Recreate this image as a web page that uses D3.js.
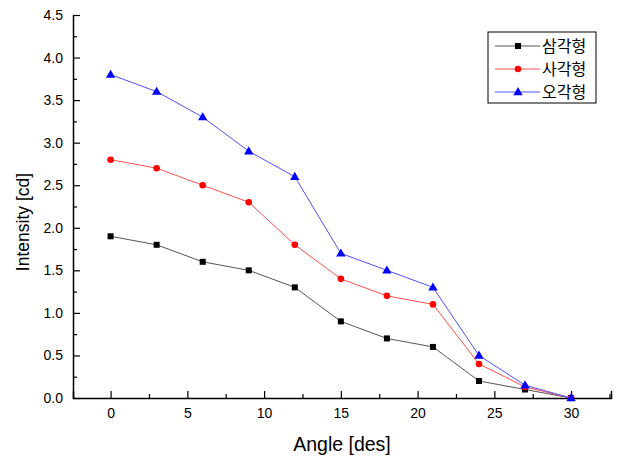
<!DOCTYPE html>
<html>
<head>
<meta charset="utf-8">
<script src="https://cdn.jsdelivr.net/npm/d3@7"></script>
<style>
  body { margin: 0; background: #fff; }
  svg { font-family: "Liberation Sans", Arial, sans-serif; }
</style>
</head>
<body>
<div id="chart"></div>
<script>
// chart data
const angles = [0, 3, 6, 9, 12, 15, 18, 21, 24, 27, 30];
const triangle = [1.9, 1.8, 1.6, 1.5, 1.3, 0.9, 0.7, 0.6, 0.2, 0.1, 0.0];
const square = [2.8, 2.7, 2.5, 2.3, 1.8, 1.4, 1.2, 1.1, 0.4, 0.13, 0.0];
const pentagon = [3.8, 3.6, 3.3, 2.9, 2.6, 1.7, 1.5, 1.3, 0.5, 0.15, 0.0];
const seriesNames = ["삼각형", "사각형", "오각형"];
const xTicks = [0, 5, 10, 15, 20, 25, 30];
const yTicks = [0, 0.5, 1.0, 1.5, 2.0, 2.5, 3.0, 3.5, 4.0, 4.5];

const WIDTH = 617, HEIGHT = 456;
const MARGINS = {left: 73, right: 6, top: 15, bottom: 58};

const svg = d3.select("#chart").append("svg")
  .attr("width", WIDTH).attr("height", HEIGHT);

const x = d3.scaleLinear().domain([-2.45, 32.6])
  .range([MARGINS.left, WIDTH - MARGINS.right]);
const y = d3.scaleLinear().domain([0, 4.5])
  .range([HEIGHT - MARGINS.bottom, MARGINS.top]);

// axes (ticks point inward)
const xMinor = d3.range(-2.5, 33, 2.5).filter(v => v % 5 !== 0 && v > -2.4);
svg.append("g")
  .attr("transform", "translate(0," + y(0) + ")")
  .call(d3.axisBottom(x).tickValues(xMinor).tickSize(-4).tickFormat(""))
  .call(g => g.select(".domain").remove());
svg.append("g")
  .attr("transform", "translate(0," + y(0) + ")")
  .call(d3.axisBottom(x).tickValues(xTicks).tickSize(-7).tickSizeOuter(-7).tickPadding(10))
  .attr("font-size", "14px")
  .attr("font-family", null);

const yMinor = d3.range(0.25, 4.5, 0.5);
svg.append("g")
  .attr("transform", "translate(" + x.range()[0] + ",0)")
  .call(d3.axisLeft(y).tickValues(yMinor).tickSize(-4).tickFormat(""))
  .call(g => g.select(".domain").remove());
svg.append("g")
  .attr("transform", "translate(" + x.range()[0] + ",0)")
  .call(d3.axisLeft(y).tickValues(yTicks).tickSize(-7).tickSizeOuter(0).tickPadding(10).tickFormat(d3.format(".1f")))
  .attr("font-size", "14px")
  .attr("font-family", null);

svg.selectAll(".domain").attr("stroke-width", 1.5);
svg.selectAll(".tick line").attr("stroke-width", 1.2);
svg.selectAll(".tick text").attr("fill", "#000");

// axis titles
svg.append("text")
  .attr("x", 342).attr("y", 451)
  .attr("text-anchor", "middle")
  .attr("font-size", "19.5px")
  .text("Angle [des]");
svg.append("text")
  .attr("transform", "translate(29,222) rotate(-90)")
  .attr("text-anchor", "middle")
  .attr("font-size", "17.5px")
  .text("Intensity [cd]");

const series = [
  {name: seriesNames[0], values: triangle, color: "#000000", line: "#555555", marker: "square"},
  {name: seriesNames[1], values: square, color: "#ff0000", line: "#ff5050", marker: "circle"},
  {name: seriesNames[2], values: pentagon, color: "#0000ff", line: "#5050ff", marker: "triangle"}
];

const line = d3.line().x((d, i) => x(angles[i])).y(d => y(d));

function drawMarker(g, type, color, cx, cy) {
  if (type === "square") {
    g.append("rect").attr("x", cx - 3).attr("y", cy - 3)
      .attr("width", 6).attr("height", 6).attr("fill", color);
  } else if (type === "circle") {
    g.append("circle").attr("cx", cx).attr("cy", cy).attr("r", 3.3).attr("fill", color);
  } else {
    g.append("path")
      .attr("d", d3.symbol().type(d3.symbolTriangle).size(38)())
      .attr("transform", "translate(" + cx + "," + (cy + 0.5) + ")")
      .attr("fill", color);
  }
}

series.forEach(s => {
  svg.append("path")
    .datum(s.values)
    .attr("d", line)
    .attr("fill", "none")
    .attr("stroke", s.line)
    .attr("stroke-width", 1);
  const g = svg.append("g");
  s.values.forEach((v, i) => drawMarker(g, s.marker, s.color, x(angles[i]), y(v)));
});

// legend
const legend = svg.append("g").attr("transform", "translate(488,32)");
legend.append("rect")
  .attr("width", 108).attr("height", 71)
  .attr("fill", "#fff").attr("stroke", "#000").attr("stroke-width", 1);
series.forEach((s, i) => {
  const ly = 14 + i * 23;
  legend.append("line")
    .attr("x1", 7).attr("x2", 52).attr("y1", ly).attr("y2", ly)
    .attr("stroke", s.line).attr("stroke-width", 1);
  drawMarker(legend, s.marker, s.color, 30, ly);
  legend.append("text")
    .attr("x", 54).attr("y", ly + 6)
    .attr("font-size", "16px")
    .attr("font-family", "'Noto Sans CJK KR', sans-serif")
    .text(s.name);
});
</script>
</body>
</html>
